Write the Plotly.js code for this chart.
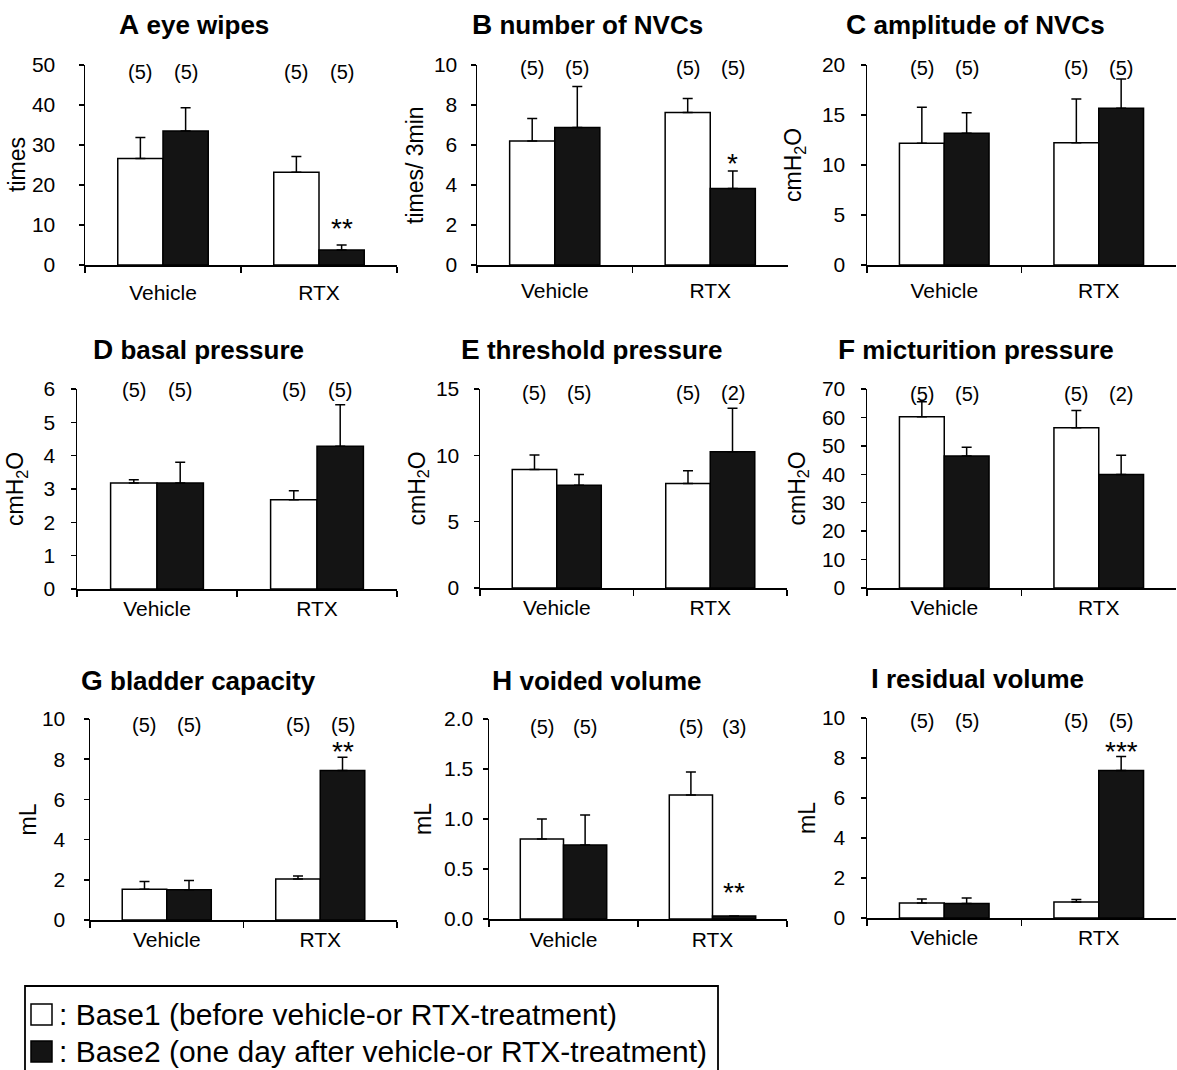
<!DOCTYPE html>
<html><head><meta charset="utf-8">
<script src="https://cdn.plot.ly/plotly-3.0.1.min.js"></script>
<style>html,body{margin:0;padding:0;background:#fff;} #chart{width:1177px;height:1070px;}</style>
</head><body><div id="chart"></div>
<script>
// ---- data ----
const groups = ['Vehicle', 'RTX'];
const panelLetters = ['A','B','C','D','E','F','G','H','I'];
const panelNames = ['eye wipes','number of NVCs','amplitude of NVCs','basal pressure','threshold pressure','micturition pressure','bladder capacity','voided volume','residual volume'];
const yTitles = ['times','times/ 3min','cmH<sub>2</sub>O','cmH<sub>2</sub>O','cmH<sub>2</sub>O','cmH<sub>2</sub>O','mL','mL','mL'];
const yMax = [50, 10, 20, 6, 15, 70, 10, 2, 10];
const yStep = [10, 2, 5, 1, 5, 10, 2, 0.5, 2];

const base1Vehicle    = [26.6, 6.20, 12.17, 3.18, 8.94, 60.2, 1.53, 0.80, 0.75];
const base1VehicleSEM = [5.3, 1.13, 3.60, 0.10, 1.08, 5.3, 0.38, 0.20, 0.20];
const base1RTX        = [23.2, 7.62, 12.23, 2.68, 7.88, 56.4, 2.04, 1.24, 0.80];
const base1RTXSEM     = [3.9, 0.70, 4.37, 0.27, 0.95, 6.0, 0.15, 0.23, 0.12];
const base2Vehicle    = [33.5, 6.87, 13.17, 3.18, 7.75, 46.4, 1.50, 0.74, 0.72];
const base2VehicleSEM = [5.8, 2.05, 2.06, 0.62, 0.81, 3.1, 0.46, 0.30, 0.28];
const base2RTX        = [3.75, 3.82, 15.67, 4.28, 10.27, 39.9, 7.44, 0.03, 7.38];
const base2RTXSEM     = [1.25, 0.88, 2.93, 1.25, 3.27, 6.8, 0.66, 0.0, 0.70];

const nBase1Vehicle = [5,5,5,5,5,5,5,5,5];
const nBase2Vehicle = [5,5,5,5,5,5,5,5,5];
const nBase1RTX     = [5,5,5,5,5,5,5,5,5];
const nBase2RTX     = [5,5,5,5,2,2,5,3,5];
const sigBase2RTX   = ['**','*','','','','','**','**','***'];

const legendBase1 = ': Base1 (before vehicle-or RTX-treatment)';
const legendBase2 = ': Base2 (one day after vehicle-or RTX-treatment)';

// ---- layout / style (pixels) ----
const W = 1177, H = 1070;
const px = v => v / W;
const py = v => 1 - v / H;
// [left, right, top, bottom]
const boxes = [[85,397,65,265],[477,788,65,265],[867,1176,65,265],
               [77,397,389,589],[480,787,389,588],[867,1176,389,588],
               [90,397,719,920],[489,787,719,919],[867,1176,718,918]];
const titlePos = [[194,25],[587,25],[975,25],[198,350],[591,350],[976,350],[198,680],[597,680],[978,678]];
const yTitleShift = [-68,-62,-72,-60,-62,-69,-63,-66,-60];
const yLabelGap = [27,17,19,19,18,19,22,13,19];
const xLabelStandoff = [8,6,6,0,0,0,0,1,0];
const nLabelDrop = [7,3,3,1,4,5,6,8,3];
const starShift = [16,7,0,0,0,0,6,24,5];
const FONT = 'Liberation Sans, Arial, sans-serif';
const half = 0.145;

const traces = [];
const layout = {
  width: W, height: H, margin: {l:0, r:0, t:0, b:0},
  paper_bgcolor: '#fff', plot_bgcolor: 'rgba(0,0,0,0)',
  barmode: 'group', bargap: 0.42, bargroupgap: 0,
  showlegend: false, font: {family: FONT, color: '#000', size: 21},
  annotations: [], shapes: []
};

for (let i = 0; i < 9; i++) {
  const k = i === 0 ? '' : String(i + 1);
  const b = boxes[i];
  const errStyle = (arr) => ({type:'data', symmetric:false, array:arr, arrayminus:[0,0], color:'#000', thickness:1.5, width:5, visible:true});
  traces.push({
    type:'bar', x: groups, y:[base1Vehicle[i], base1RTX[i]],
    error_y: errStyle([base1VehicleSEM[i], base1RTXSEM[i]]),
    marker:{color:'#ffffff', line:{color:'#000', width:1.5}},
    xaxis:'x'+k, yaxis:'y'+k, name:'Base1', hoverinfo:'y'
  });
  traces.push({
    type:'bar', x: groups, y:[base2Vehicle[i], base2RTX[i]],
    error_y: errStyle([base2VehicleSEM[i], base2RTXSEM[i]]),
    marker:{color:'#141414', line:{color:'#000', width:1.5}},
    xaxis:'x'+k, yaxis:'y'+k, name:'Base2', hoverinfo:'y'
  });
  layout['xaxis'+k] = {
    domain:[px(b[0]), px(b[1])], anchor:'y'+k, type:'category',
    range:[-0.5, 1.5], tickson:'boundaries', ticks:'outside', ticklen:6, tickwidth:1.5, tickcolor:'#000',
    showline:true, linecolor:'#000', linewidth:1.5, showgrid:false, zeroline:false,
    tickfont:{size:21, family:FONT, color:'#000'}, ticklabelstandoff:xLabelStandoff[i], fixedrange:true
  };
  layout['yaxis'+k] = {
    domain:[py(b[3]), py(b[2])], anchor:'x'+k, range:[0, yMax[i]], tick0:0, dtick:yStep[i],
    tickformat: i === 7 ? '.1f' : '', ticks:'outside', ticklen:5, tickwidth:1.5, tickcolor:'#000',
    showline:true, linecolor:'#000', linewidth:1.5, showgrid:false, zeroline:false,
    tickfont:{size:21, family:FONT, color:'#000'}, ticklabelstandoff: Math.max(0, yLabelGap[i]-8), fixedrange:true
  };
  // panel title
  layout.annotations.push({
    xref:'paper', yref:'paper', x:px(titlePos[i][0]), y:py(titlePos[i][1]), xanchor:'center', yanchor:'middle',
    text:'<b><span style="font-size:28px">'+panelLetters[i]+'</span> '+panelNames[i]+'</b>', showarrow:false,
    font:{size:26, family:FONT, color:'#000'}
  });
  // y title
  layout.annotations.push({
    xref:'x'+k+' domain', yref:'y'+k+' domain', x:0, y:0.5, xshift:yTitleShift[i], textangle:-90,
    xanchor:'center', yanchor:'middle', text:yTitles[i], showarrow:false, font:{size:23, family:FONT, color:'#000'}
  });
  // n labels
  const ns = [[0-half, nBase1Vehicle[i]],[0+half, nBase2Vehicle[i]],[1-half, nBase1RTX[i]],[1+half, nBase2RTX[i]]];
  ns.forEach(([xx, n]) => layout.annotations.push({
    xref:'x'+k, yref:'y'+k+' domain', x:xx, y:1, yshift:-nLabelDrop[i], xanchor:'center', yanchor:'middle',
    text:'('+n+')', showarrow:false, font:{size:20, family:FONT, color:'#000'}
  }));
  // significance
  if (sigBase2RTX[i]) layout.annotations.push({
    xref:'x'+k, yref:'y'+k, x:1+half, y:base2RTX[i]+base2RTXSEM[i], yshift:starShift[i], xanchor:'center', yanchor:'middle',
    text:sigBase2RTX[i], showarrow:false, font:{size:28, family:FONT, color:'#000'}
  });
}

// legend box (open at the bottom)
layout.shapes.push({type:'path', xref:'paper', yref:'paper',
  path:`M ${px(25)},${py(1075)} L ${px(25)},${py(986)} L ${px(718)},${py(986)} L ${px(718)},${py(1075)}`,
  line:{color:'#000', width:1.8}});
layout.shapes.push({type:'rect', xref:'paper', yref:'paper', x0:px(31), x1:px(52), y0:py(1025), y1:py(1004),
  fillcolor:'#fff', line:{color:'#000', width:1.5}});
layout.shapes.push({type:'rect', xref:'paper', yref:'paper', x0:px(31), x1:px(52), y0:py(1062), y1:py(1041),
  fillcolor:'#141414', line:{color:'#000', width:1.5}});
layout.annotations.push({xref:'paper', yref:'paper', x:px(57), y:py(1014), xanchor:'left', yanchor:'middle',
  text:legendBase1, showarrow:false, font:{size:30, family:FONT, color:'#000'}});
layout.annotations.push({xref:'paper', yref:'paper', x:px(57), y:py(1051), xanchor:'left', yanchor:'middle',
  text:legendBase2, showarrow:false, font:{size:30, family:FONT, color:'#000'}});

Plotly.newPlot('chart', traces, layout, {displayModeBar:false, staticPlot:true});
</script></body></html>
